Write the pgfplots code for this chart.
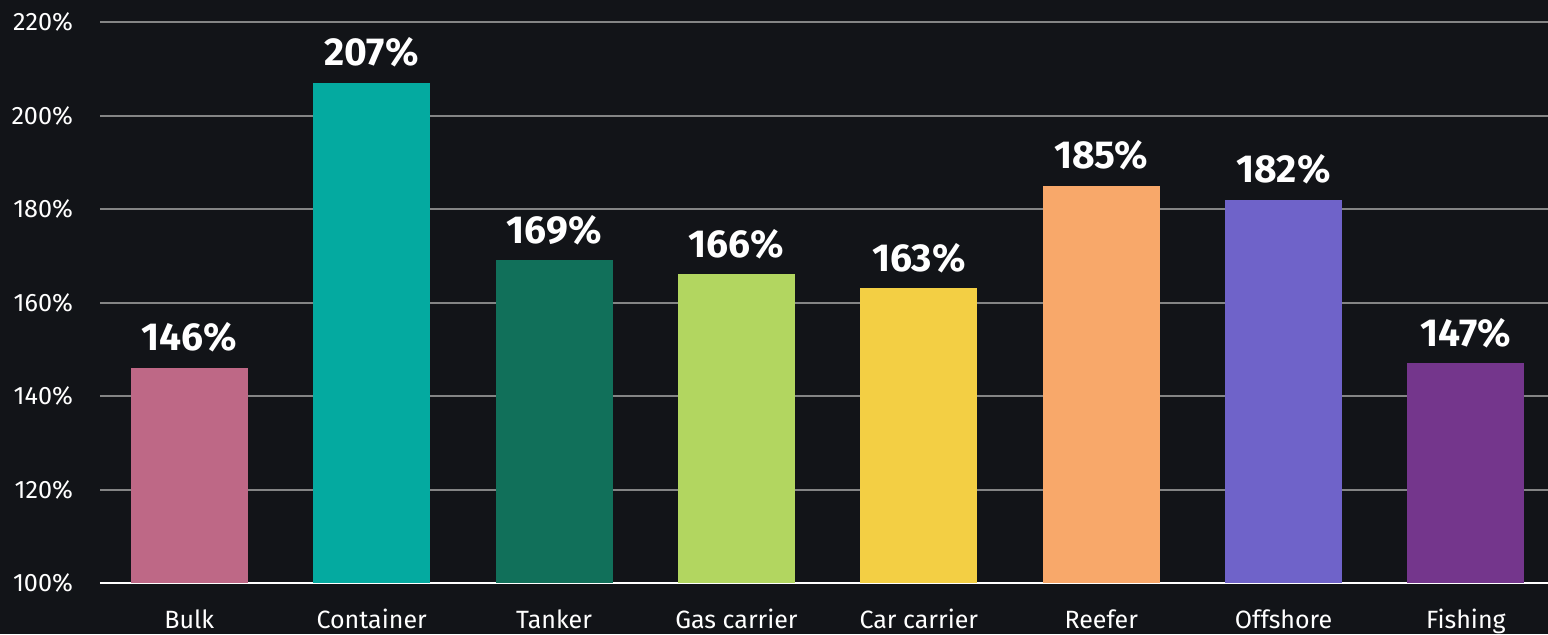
\documentclass[border=0pt]{standalone}
\usepackage{pgfplots}
\pgfplotsset{compat=1.18}
\usepackage{fontspec}
\setmainfont{Fira Sans}
\definecolor{bg}{HTML}{121418}
\definecolor{cBulk}{RGB}{190,104,134}
\definecolor{cCont}{RGB}{4,170,160}
\definecolor{cTank}{RGB}{17,112,90}
\definecolor{cGas}{RGB}{178,214,96}
\definecolor{cCar}{RGB}{243,207,68}
\definecolor{cReef}{RGB}{248,168,106}
\definecolor{cOff}{RGB}{111,99,201}
\definecolor{cFish}{RGB}{116,54,140}
\begin{document}
\begin{tikzpicture}[x=1pt,y=1pt]
\fill[bg] (-50,-25.5) rectangle (724,291.5);
\path[use as bounding box] (-50,-25.5) rectangle (724,291.5);
\begin{axis}[
  at={(0,0)}, anchor=south west,
  scale only axis, width=724pt, height=280.5pt,
  xmin=-0.49, xmax=7.45, ymin=100, ymax=220,
  ytick={100,120,...,220},
  xtick={0,...,7},
  xticklabels={Bulk,Container,Tanker,Gas carrier,Car carrier,Reefer,Offshore,Fishing},
  axis x line*=bottom, axis y line*=left,
  x axis line style={white, line width=1.2pt},
  y axis line style={draw=none},
  major tick length=0pt,
  ymajorgrids,
  grid style={line width=1pt, color=gray!80, opacity=0.85},
  /pgf/number format/assume math mode=true,
  yticklabel={\pgfmathprintnumber{\tick}\%},
  yticklabel style={font=\fontsize{12.6}{14}\selectfont, text=white, anchor=east, xshift=-10pt},
  xticklabel style={font=\fontsize{12.5}{14}\selectfont, text=white, anchor=base, yshift=-22.5pt},
  ybar, bar width=58.5pt,
  nodes near coords={\pgfmathprintnumber{\pgfplotspointmeta}\%},
  every node near coord/.append style={font=\fontsize{19.5}{22}\selectfont\bfseries, text=white, anchor=base, yshift=8.5pt},
]
\addplot[fill=cBulk, draw=none, bar shift=0pt] coordinates {(0,146)};
\addplot[fill=cCont, draw=none, bar shift=0pt] coordinates {(1,207)};
\addplot[fill=cTank, draw=none, bar shift=0pt] coordinates {(2,169)};
\addplot[fill=cGas, draw=none, bar shift=0pt] coordinates {(3,166)};
\addplot[fill=cCar, draw=none, bar shift=0pt] coordinates {(4,163)};
\addplot[fill=cReef, draw=none, bar shift=0pt] coordinates {(5,185)};
\addplot[fill=cOff, draw=none, bar shift=0pt] coordinates {(6,182)};
\addplot[fill=cFish, draw=none, bar shift=0pt] coordinates {(7,147)};
\end{axis}
\end{tikzpicture}
\end{document}
